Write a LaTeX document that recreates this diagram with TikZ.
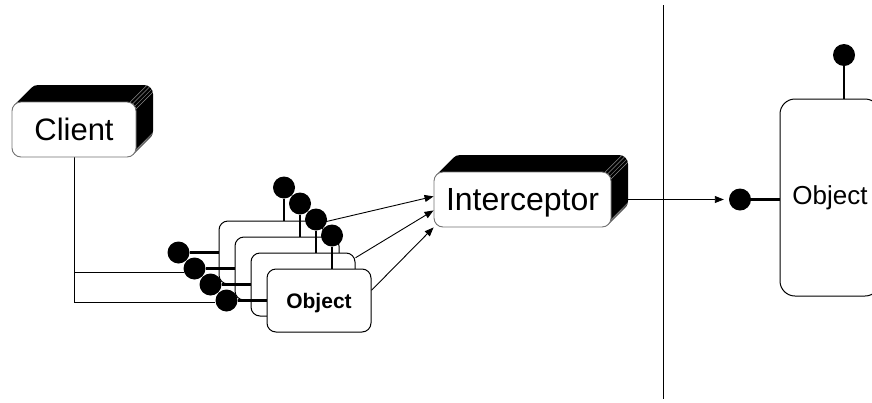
\documentclass[tikz,border=0pt]{standalone}
\usepackage{fontspec}
\setmainfont{Liberation Sans}
\usetikzlibrary{arrows.meta,calc,backgrounds}

% black slab seen behind a raised box (corners x1,y1,x2,y2 of the front face),
% with a few light depth lines at the two rounded right-hand corners
\newcommand\slabdepth[4]{%
  \foreach \k in {17,...,1}{%
    \fill[black, rounded corners=9pt] ({#1+\k},{#2-\k}) rectangle ({#3+\k},{#4-\k});
  }%
  \foreach \a in {12,32,52,72}{%
    \draw[black!45, line width=0.5pt]
      ({#3-9+9*cos(\a)},{#2+9-9*sin(\a)}) -- ++(17,-17);
    \draw[black!45, line width=0.5pt]
      ({#3-9+9*cos(\a)},{#4-9+9*sin(\a)}) -- ++(17,-17);
  }}

\begin{document}
\begin{tikzpicture}[x=1pt, y=-1pt,
  front/.style={draw=black!55, line width=0.9pt, fill=white, rounded corners=9pt,
    inner sep=0pt, text depth=0pt},
  objbox/.style={draw=black, line width=1pt, fill=white, rounded corners=9pt,
    minimum width=104pt, minimum height=63pt, inner sep=0pt, text depth=0pt},
  pin/.style={circle, fill=black, minimum size=22pt, inner sep=0pt},
  stick/.style={line width=2.8pt},
  wire/.style={line width=0.9pt},
  arr/.style={wire, -{Triangle[length=9pt, width=7pt]}},
]
\useasboundingbox (0,0) rectangle (872,402);

% client
\slabdepth{12}{102}{136}{157}
\node[front, minimum width=124pt, minimum height=55pt] (cl) at (74,129.5)
  {\fontsize{31}{36}\selectfont Client};

% interceptor
\slabdepth{434}{172}{611}{227}
\node[front, minimum width=177pt, minimum height=55pt] (ic) at (522.5,199.5)
  {\fontsize{32}{36}\selectfont Interceptor};
\coordinate (icback) at ($(ic.east)+(16,0)$);

% stack of objects, back to front
\node[objbox] (b1) at (271,252.5) {};
\node[pin] (l1) at ($(b1.west)+(-40,0)$) {};
\node[pin] (t1) at ($(b1.north)+(13,-33)$) {};
\draw[stick] (l1) -- (b1.west);
\draw[stick] (t1) -- (b1.north -| t1);

\node[objbox] (b2) at (287,268.5) {};
\node[pin] (l2) at ($(b2.west)+(-40,0)$) {};
\node[pin] (t2) at ($(b2.north)+(13,-33)$) {};
\draw[stick] (l2) -- (b2.west);
\draw[stick] (t2) -- (b2.north -| t2);

\node[objbox] (b3) at (303,284.5) {};
\node[pin] (l3) at ($(b3.west)+(-40,0)$) {};
\node[pin] (t3) at ($(b3.north)+(13,-33)$) {};
\draw[stick] (l3) -- (b3.west);
\draw[stick] (t3) -- (b3.north -| t3);

\node[objbox] (b4) at (319,300.5) {\fontsize{21}{24}\selectfont\bfseries Object};
\node[pin] (l4) at ($(b4.west)+(-40,0)$) {};
\node[pin] (t4) at ($(b4.north)+(13,-33)$) {};
\draw[stick] (l4) -- (b4.west);
\draw[stick] (t4) -- (b4.north -| t4);

% client wires to the stack, kept beneath the pins
\begin{pgfonlayer}{background}
\draw[wire] (cl.south) |- (l2.200);
\draw[wire] (cl.south) |- (l4.190);
\end{pgfonlayer}

% stack to interceptor
\draw[arr] (b1.30) -- (ic.178);
\draw[arr] (b3.27) -- (ic.187);
\draw[arr] (b4.11) -- (ic.south west);

% boundary line
\coordinate (sepA) at (663,5);
\coordinate (sepB) at (663,399);
\draw[wire] (sepA) -- (sepB);

% remote object
\node[objbox, minimum width=100pt, minimum height=197pt, rounded corners=15pt,
  text depth=5pt] (ro) at (830,197.5) {\fontsize{26}{30}\selectfont Object};
\node[pin] (rl) at (740,199.5) {};
\node[pin] (rt) at (844,55) {};
\draw[stick] (rl) -- (ro.west |- rl);
\draw[stick] (rt) -- (ro.north -| rt);
\draw[arr, shorten >=5pt] (icback) -- (rl);
\end{tikzpicture}
\end{document}
